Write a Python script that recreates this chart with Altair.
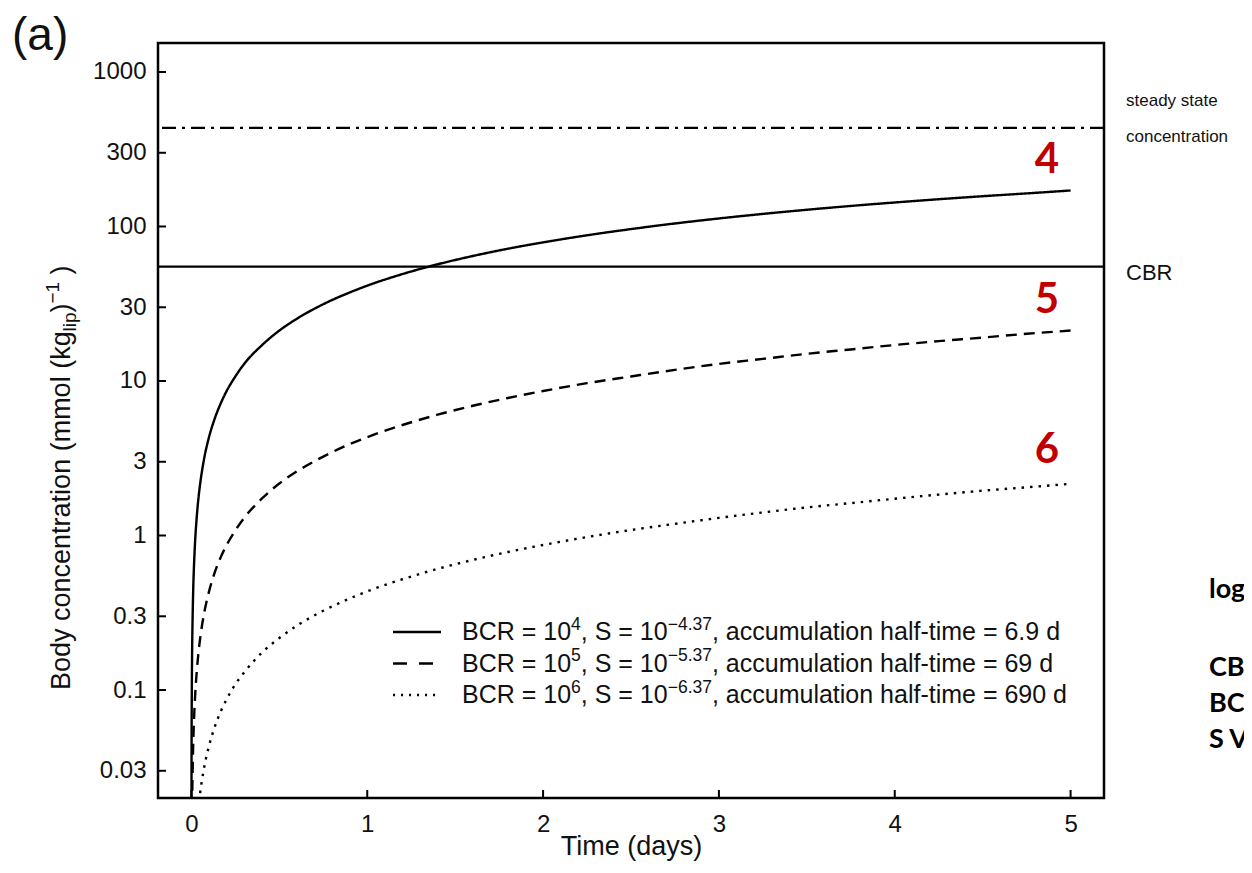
import altair as alt
import pandas as pd

# ---------------- data ----------------
t_bcr4 = [0.0003, 0.0005, 0.001, 0.002, 0.004, 0.007, 0.01, 0.015, 0.02, 0.03, 0.04, 0.05, 0.07,
          0.1, 0.13, 0.17, 0.2, 0.25, 0.3, 0.4, 0.5, 0.6, 0.75, 0.9, 1.0, 1.2, 1.4, 1.6, 1.8,
          2.0, 2.25, 2.5, 2.75, 3.0, 3.25, 3.5, 3.75, 4.0, 4.25, 4.5, 4.75, 5.0]
c_bcr4 = [0.013, 0.022, 0.044, 0.087, 0.174, 0.30, 0.435, 0.65, 0.87, 1.3, 1.74, 2.17, 3.04,
          4.33, 5.6, 7.3, 8.6, 10.7, 12.9, 17.0, 21.2, 25.3, 31.4, 37.4, 41.4, 49.2, 56.9, 64.4, 71.8,
          78.9, 87.7, 96.2, 104.6, 112.7, 120.6, 128.3, 135.8, 143.0, 150.1, 157.0, 163.7, 171.0]

t_bcr5 = [0.003, 0.005, 0.007, 0.01, 0.015, 0.02, 0.03, 0.04, 0.05, 0.07, 0.1, 0.13, 0.17, 0.2,
          0.25, 0.3, 0.4, 0.5, 0.6, 0.75, 0.9, 1.0, 1.2, 1.4, 1.6, 1.8, 2.0, 2.25, 2.5, 2.75,
          3.0, 3.25, 3.5, 3.75, 4.0, 4.25, 4.5, 4.75, 5.0]
c_bcr5 = [0.013, 0.022, 0.030, 0.0435, 0.065, 0.087, 0.13, 0.174, 0.217, 0.304, 0.433, 0.565, 0.738, 0.866,
          1.08, 1.30, 1.73, 2.17, 2.60, 3.24, 3.90, 4.33, 5.19, 6.05, 6.91, 7.76, 8.61, 9.68, 10.7, 11.8,
          12.9, 13.9, 15.0, 16.0, 17.1, 18.1, 19.1, 20.2, 21.2]

t_bcr6 = [0.03, 0.05, 0.07, 0.1, 0.13, 0.17, 0.2, 0.25, 0.3, 0.4, 0.5, 0.6, 0.75, 0.9, 1.0, 1.2,
          1.4, 1.6, 1.8, 2.0, 2.25, 2.5, 2.75, 3.0, 3.25, 3.5, 3.75, 4.0, 4.25, 4.5, 4.75, 5.0]
c_bcr6 = [0.013, 0.0217, 0.0304, 0.0435, 0.0565, 0.074, 0.087, 0.109, 0.130, 0.174, 0.217, 0.261,
          0.326, 0.391, 0.435, 0.521, 0.608, 0.695, 0.782, 0.868, 0.977, 1.085, 1.19, 1.30, 1.41,
          1.52, 1.62, 1.73, 1.84, 1.95, 2.05, 2.16]

series_names = ["BCR4", "BCR5", "BCR6"]
x_ticks = [0, 1, 2, 3, 4, 5]
y_ticks = [0.03, 0.1, 0.3, 1, 3, 10, 30, 100, 300, 1000]
steady_state = [435]
cbr = [55]

legend_bcr = ["4", "5", "6"]
legend_s = ["\u22124.37", "\u22125.37", "\u22126.37"]
legend_half = ["6.9 d", "69 d", "690 d"]
curve_labels = ["4", "5", "6"]

# ---------------- layout ----------------
W, H = 946, 755
FONT = "Liberation Sans"
x_scale = alt.Scale(domain=[-0.19, 5.19], nice=False, zero=False)
y_scale = alt.Scale(type="log", domain=[0.02, 1540], nice=False)

x_axis = alt.Axis(values=x_ticks, format="d", ticks=False, domain=False, grid=False,
                  labelFont=FONT, labelFontSize=24, labelColor="#111111",
                  labelPadding=14, title="Time (days)", titleFont=FONT,
                  titleFontSize=27, titleFontWeight="normal", titleColor="#111111",
                  titlePadding=-3)
y_axis = alt.Axis(values=y_ticks, format="~g", ticks=False, domain=False, grid=False,
                  labelFont=FONT, labelFontSize=24, labelColor="#111111",
                  labelPadding=12, title=None)

ARIAL = {' ': 278, ',': 278, '-': 333, '.': 278, '=': 584, '\u2212': 584, '(': 333, ')': 333,
         'B': 667, 'C': 722, 'R': 722, 'S': 667, 'T': 611, 'a': 556, 'b': 556, 'c': 500,
         'd': 556, 'e': 556, 'f': 278, 'g': 556, 'h': 556, 'i': 222, 'k': 500, 'l': 222,
         'm': 833, 'n': 556, 'o': 556, 'p': 556, 'r': 333, 's': 500, 't': 278, 'u': 556, 'y': 500}


def tw(s, size):
    return sum(ARIAL.get(ch, 556) for ch in s) * size / 1000.0


def pieces(parts, x0, y0, base, vertical=False):
    out = []
    pos = 0.0
    for text, kind in parts:
        size = base if kind == "n" else base * 0.7
        shift = {"n": 0.0, "sup": -0.42 * base, "sub": 0.22 * base}[kind]
        lead = len(text) - len(text.lstrip(" "))
        pos += tw(" " * lead, size)
        t = text.lstrip(" ")
        if vertical:
            out.append((x0 + shift, y0 - pos, t, size))
        else:
            out.append((x0 + pos, y0 + shift, t, size))
        pos += tw(t, size)
    return out


dummy = pd.DataFrame({"a": [0]})


def txt(x, y, t, size, angle=0, font=FONT, weight="normal", color="#111111",
        align="left", baseline="alphabetic"):
    kw = dict(font=font, fontSize=size, fontWeight=weight, color=color,
              align=align, baseline=baseline)
    if angle:
        kw["angle"] = angle
    return alt.Chart(dummy).mark_text(**kw).encode(
        x=alt.value(x), y=alt.value(y), text=alt.value(t))


# ---------------- curves ----------------
rows = []
for name, ts, cs in zip(series_names, [t_bcr4, t_bcr5, t_bcr6], [c_bcr4, c_bcr5, c_bcr6]):
    for t, c in zip(ts, cs):
        rows.append({"series": name, "t": t, "c": c})
df = pd.DataFrame(rows)

curves = alt.Chart(df).mark_line(color="black", strokeWidth=2.4, clip=True,
                                 interpolate="monotone").encode(
    x=alt.X("t:Q", scale=x_scale, axis=x_axis, title="Time (days)"),
    y=alt.Y("c:Q", scale=y_scale, axis=y_axis),
    strokeDash=alt.StrokeDash("series:N",
                              scale=alt.Scale(domain=series_names,
                                              range=[[1, 0], [11, 7], [2.5, 6]]),
                              legend=None),
    detail="series:N",
)

ss_line = alt.Chart(pd.DataFrame({"c": steady_state})).mark_rule(
    color="black", strokeWidth=2.4, strokeDash=[14, 6, 3, 6]).encode(
    y=alt.Y("c:Q", scale=y_scale, axis=y_axis))
cbr_line = alt.Chart(pd.DataFrame({"c": cbr})).mark_rule(
    color="black", strokeWidth=2.4).encode(
    y=alt.Y("c:Q", scale=y_scale, axis=y_axis))

# inward ticks
yt = alt.Chart(pd.DataFrame({"c": y_ticks})).mark_rule(color="black", strokeWidth=2).encode(
    y=alt.Y("c:Q", scale=y_scale, axis=y_axis), x=alt.value(0), x2=alt.value(8))
xt = alt.Chart(pd.DataFrame({"t": x_ticks})).mark_rule(color="black", strokeWidth=2).encode(
    x=alt.X("t:Q", scale=x_scale, axis=x_axis, title="Time (days)"),
    y=alt.value(H - 8), y2=alt.value(H))

layers = [curves, ss_line, cbr_line, yt, xt]

# legend
leg_x0, leg_y0, leg_dy = 304, 597, 31.5
dashes = [[1, 0], [14, 12], [2, 6]]
for i in range(3):
    yb = leg_y0 + i * leg_dy
    layers.append(alt.Chart(dummy).mark_rule(color="black", strokeWidth=2.4,
                                             strokeDash=dashes[i]).encode(
        x=alt.value(235), x2=alt.value(283), y=alt.value(yb - 8)))
    parts = [("BCR = 10", "n"), (legend_bcr[i], "sup"), (", S = 10", "n"),
             (legend_s[i], "sup"), (", accumulation half-time = " + legend_half[i], "n")]
    for (px, py, t, s) in pieces(parts, leg_x0, yb, 25):
        layers.append(txt(px, py, t, s))

# y axis title
ytitle = [("Body concentration (mmol (kg", "n"), ("lip", "sub"), (")", "n"),
          ("\u22121", "sup"), (" )", "n")]
for (px, py, t, s) in pieces(ytitle, -88, 647, 27, vertical=True):
    layers.append(txt(px, py, t, s, angle=270))

# panel label
layers.append(txt(-146, 7, "(a)", 46))

# right-hand labels
layers.append(txt(968, 63, "steady state", 17))
layers.append(txt(968, 99, "concentration", 17))
layers.append(txt(968, 237, "CBR", 22))

# red curve numbers
for lab, yy in zip(curve_labels, [117, 257, 407]):
    layers.append(txt(889, yy, lab, 42, font="Lato", weight="bold", color="#C00000",
                      align="center", baseline="middle"))

# cut-off bold notes at far right
for lab, yy in zip(["log", "CB", "BC", "S V"], [547, 625, 661, 697]):
    layers.append(txt(1051, yy, lab, 27, font="Lato", weight="bold", color="#000000",
                      baseline="middle"))

chart = alt.layer(*layers).properties(
    width=W, height=H,
    autosize=alt.AutoSizeParams(type="none"),
    padding={"left": 150, "top": 35, "right": 140, "bottom": 66},
    background="white",
).configure_view(stroke="black", strokeWidth=2.5)

chart.save("out.html", embed_options={"renderer": "svg", "actions": False})
